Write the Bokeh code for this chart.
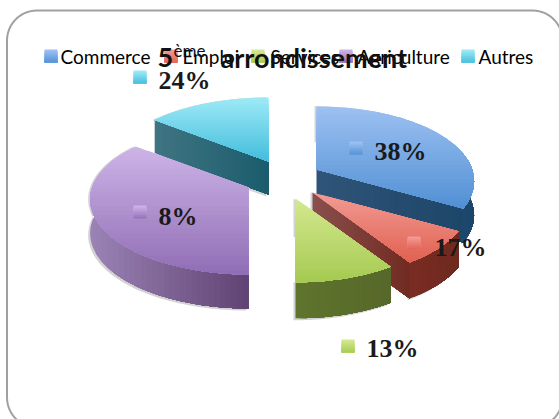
import numpy as np
from bokeh.plotting import figure
from bokeh.models import Range1d
from bokeh.core.properties import value
from bokeh.embed import file_html
from bokeh.resources import INLINE

categories = ["Commerce", "Emploi", "Services", "Agriculture", "Autres"]
drawn_shares = [33.2, 7.6, 9.2, 35.5, 14.5]
label_texts = ["38%", "17%", "13%", "8%", "24%"]
title_main = "5"
title_sup = "ème"
title_rest = "arrondissement"

top_light = ["#9cc0f1", "#f29a94", "#d4e88f", "#ccb3e6", "#9ce9f6"]
top_dark = ["#4f8fd4", "#e0604f", "#a4c950", "#8f6cb4", "#41bcdc"]
cut_light = ["#2f5478", "#8a4f4c", "#5f742c", "#9a82b4", "#3f7482"]
cut_dark = ["#1d4668", "#702a20", "#56682a", "#5e4272", "#1a5c6c"]
wall_light = ["#1f4a70", "#7a2c22", "#5f742c", "#9a82b4", "#3f7482"]
wall_dark = ["#1d4668", "#6e2a20", "#56682a", "#5e4272", "#1a5c6c"]
apexes = [(316, 169), (312, 192), (295, 198), (248, 187), (268, 161)]
radius = [0.985, 0.98, 0.96, 0.99, 1.0]
depths = [34, 36, 36, 34, 33]
order = [0, 1, 2, 4, 3]

RX, A, B = 158.0, 0.158, 74.1


def mix(c1, c2, t):
    a = [int(c1[i:i + 2], 16) for i in (1, 3, 5)]
    b = [int(c2[i:i + 2], 16) for i in (1, 3, 5)]
    return "#%02x%02x%02x" % tuple(int(round(x + (y - x) * t)) for x, y in zip(a, b))


def project(apex, th, r=1.0):
    u, v = r * np.sin(th), r * np.cos(th)
    w = 1 + A * v
    return apex[0] + RX * u / w, apex[1] - B * v / w


def clip(xs, ys, axis, limit):
    """Keep the part of a polygon at or beyond limit along an axis."""
    pts = list(zip(xs, ys))
    out = []
    for i, q0 in enumerate(pts):
        q = pts[(i + 1) % len(pts)]
        pin, qin = q0[axis] >= limit, q[axis] >= limit
        if pin:
            out.append(q0)
        if pin != qin:
            t = (limit - q0[axis]) / (q[axis] - q0[axis])
            out.append((q0[0] + (q[0] - q0[0]) * t, q0[1] + (q[1] - q0[1]) * t))
    return [a for a, _ in out], [b for _, b in out]


p = figure(width=559, height=419, toolbar_location=None, output_backend="svg",
           x_range=Range1d(0, 559), y_range=Range1d(419, 0),
           min_border=0, outline_line_color=None, background_fill_color="white",
           border_fill_color="white")
p.axis.visible = False
p.grid.visible = False
p.styles = {"position": "absolute", "left": "0px", "top": "0px"}


def gradient(xs, ys, axis, c1, c2, n=28):
    lo, hi = min((xs, ys)[axis]), max((xs, ys)[axis])
    for k in range(n):
        t = k / n
        cx, cy = clip(xs, ys, axis, lo + (hi - lo) * t)
        if len(cx) > 2:
            p.patch(cx, cy, fill_color=mix(c1, c2, t), line_color=None)


# frame: its right and bottom edges run past the picture
L, R, T, Bt, RAD = 6.5, 562.0, 10.0, 427.0, 30.0
q = np.linspace(0, np.pi / 2, 14)
frame_x = np.concatenate([L + RAD - RAD * np.cos(q), R - RAD + RAD * np.sin(q),
                          R - RAD + RAD * np.cos(q), L + RAD - RAD * np.sin(q)])
frame_y = np.concatenate([T + RAD - RAD * np.sin(q), T + RAD - RAD * np.cos(q),
                          Bt - RAD + RAD * np.sin(q), Bt - RAD + RAD * np.cos(q)])
p.patch(list(frame_x), list(frame_y), fill_color="white", line_color="#a0a0a0", line_width=2)

# pie
edges = np.cumsum([0] + drawn_shares) / sum(drawn_shares) * 2 * np.pi
for i in order:
    a0, a1 = edges[i], edges[i + 1]
    apex = apexes[i]
    d = depths[i]
    th = np.linspace(a0, a1, 60)
    rim = [project(apex, t, radius[i]) for t in th]
    rx = [c[0] for c in rim]
    ry = [c[1] for c in rim]
    # soft shadow
    sx = [apex[0]] + rx
    sy = [apex[1]] + ry
    p.patch([x - 2 for x in sx] + [x - 2 for x in sx[::-1]],
            [y + d + 2 for y in sy] + list(sy[::-1]),
            fill_color="#808080", fill_alpha=0.35, line_color=None)
    # cut face towards the viewer
    cut = {0: a1, 1: a1, 4: a0}.get(i)
    if cut is not None:
        e = project(apex, cut, radius[i])
        gradient([apex[0], e[0], e[0], apex[0]],
                 [apex[1], e[1], e[1] + d, apex[1] + d], 0,
                 cut_light[i], cut_dark[i])
    # outer wall
    front = [k for k, t in enumerate(th) if np.cos(t) < 0.25 and i != 4]
    if front:
        wx = [rx[k] for k in front]
        wy = [ry[k] for k in front]
        gradient(wx + wx[::-1], wy + [y + d for y in wy[::-1]], 0,
                 wall_light[i], wall_dark[i])
    # top face
    gradient([apex[0]] + rx, [apex[1]] + ry, 1, top_light[i], top_dark[i])

# legend
key_x = [44, 164, 251, 339, 461]
text_x = [60, 182, 270, 357, 478]
for i, c in enumerate(categories):
    gradient([key_x[i], key_x[i] + 13, key_x[i] + 13, key_x[i]], [49, 49, 62, 62], 1,
             top_light[i], top_dark[i], n=8)
    p.text([text_x[i]], [56], text=[c], text_font=value("Lato"), text_font_size="19px",
           text_baseline="middle", text_color="#000000")

# title
p.text([157], [57], text=[title_main], text_font=value("Lato"), text_font_size="27px",
       text_font_style="bold", text_baseline="middle", text_color="#111111")
p.text([173], [50], text=[title_sup], text_font=value("Lato"), text_font_size="17px",
       text_baseline="middle", text_color="#111111")
p.text([220], [57], text=[title_rest], text_font=value("Lato"), text_font_size="27px",
       text_font_style="bold", text_baseline="middle", text_color="#111111")

# data labels
swatch_x = [349, 407, 341, 133, 133]
swatch_y = [141, 236, 339, 205, 70]
label_x = [374, 434, 366, 158, 158]
label_y = [151, 247, 348, 216, 80]
for i, t in enumerate(label_texts):
    sx, sy = swatch_x[i], swatch_y[i]
    gradient([sx, sx + 13, sx + 13, sx], [sy, sy, sy + 13, sy + 13], 1,
             top_light[i], top_dark[i], n=8)
    p.text([label_x[i]], [label_y[i]], text=[t], text_font=value("Liberation Serif"),
           text_font_size="26px", text_font_style="bold", text_baseline="middle",
           text_color="#1a1a1a")

open("out.html", "w").write(file_html(p, INLINE))
